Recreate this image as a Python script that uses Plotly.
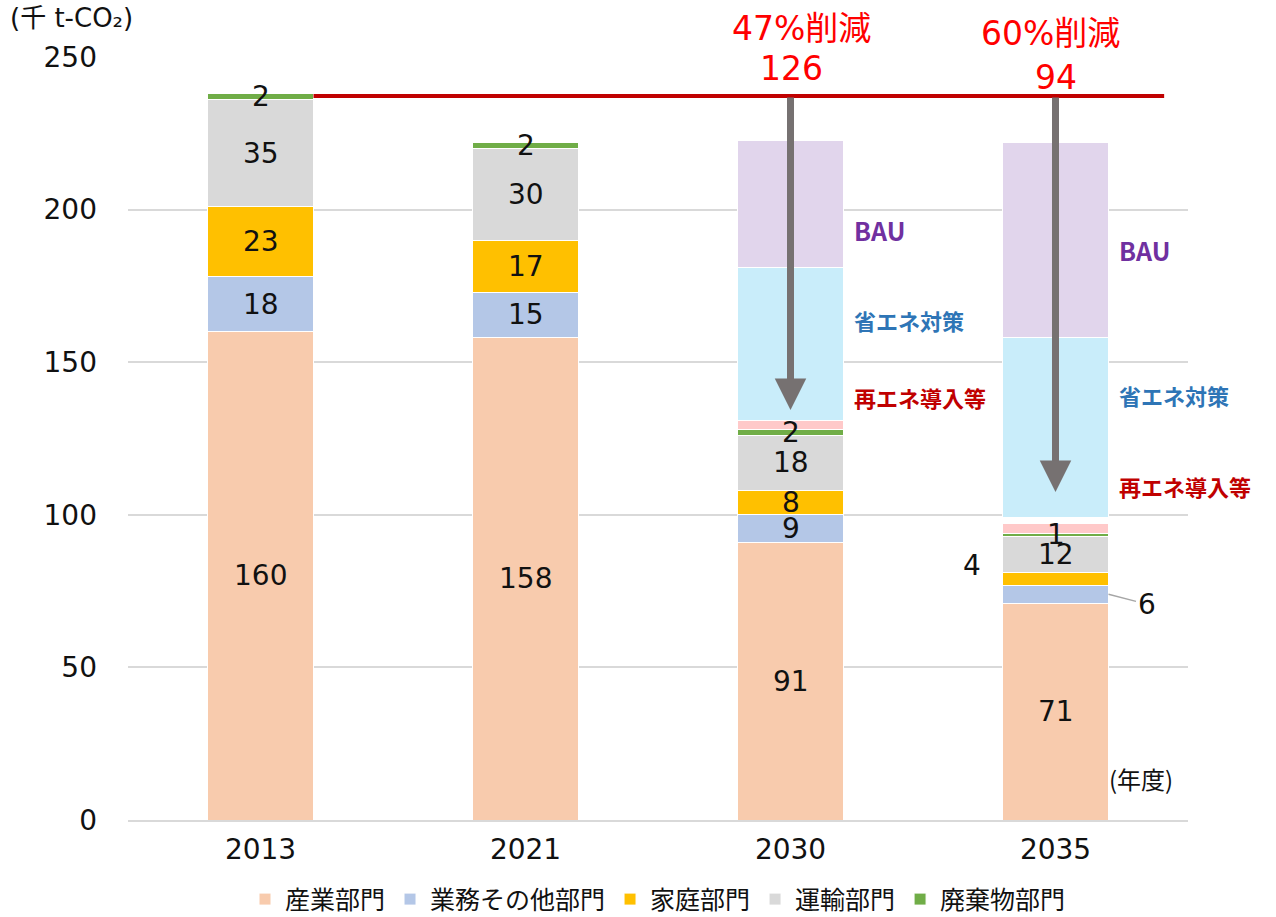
import plotly.graph_objects as go

years = ["2013", "2021", "2030", "2035"]
industry = [160, 158, 91, 71]
commercial = [18, 15, 9, 6]
household = [23, 17, 8, 4]
transport = [35, 30, 18, 12]
waste = [2, 2, 2, 1]
renew = [None, None, 3, 3]
gap = [None, None, 0, 2]
save = [None, None, 50, 59]
bau = [None, None, 41.5, 64]

sector_names = ["産業部門", "業務その他部門", "家庭部門", "運輸部門", "廃棄物部門"]
sector_colors = ["#F8CBAD", "#B4C7E7", "#FFC000", "#D9D9D9", "#70AD47"]
sector_values = [industry, commercial, household, transport, waste]

reduction_pct = ["47%削減", "60%削減"]
reduction_total = ["126", "94"]
arrow_tips = [134.3, 107.5]

NUM = "DejaVu Sans, Noto Sans CJK JP"
JP = "Noto Sans CJK JP"
fig = go.Figure()
for name, col, vals in zip(sector_names, sector_colors, sector_values):
    fig.add_trace(go.Bar(x=years, y=vals, name=name, marker=dict(color=col, line=dict(color="white", width=1)),
                         width=0.4, hoverinfo="skip"))
for name, col, vals in [("再エネ導入等", "#FFC9C9", renew), ("gap", "rgba(0,0,0,0)", gap),
                        ("省エネ対策", "#C9EDFA", save), ("BAU", "#E1D5EC", bau)]:
    fig.add_trace(go.Bar(x=years, y=vals, name=name, showlegend=False,
                         marker=dict(color=col, line=dict(color="white", width=1 if name != "gap" else 0)),
                         width=0.4, hoverinfo="skip"))

ann = []
# segment labels
for i, yr in enumerate(years):
    base = 0
    for j, vals in enumerate(sector_values):
        v = vals[i]
        mid = base + v / 2
        base += v
        a = dict(x=i, xref="x", y=mid, text=str(v), showarrow=False, font=dict(size=28, color="#111", family=NUM))
        if yr == "2035" and j == 2:
            a.update(xshift=-84, yshift=13)
        if yr == "2035" and j == 1:
            a.update(x=i + 0.2, showarrow=True, ax=38, ay=10, arrowhead=0,
                     arrowcolor="#A6A6A6", arrowwidth=1.5, standoff=0)
        ann.append(a)

# reference line from 2013 total
ref = sum(v[0] for v in sector_values)
fig.add_shape(type="line", xref="x", yref="y", x0=0.2, x1=3.41, y0=ref - 0.8, y1=ref - 0.8,
              line=dict(color="#C00000", width=4))

for k, idx in enumerate([2, 3]):
    ann.append(dict(x=idx, xref="x", y=arrow_tips[k], ax=idx, ay=ref - 0.8, axref="x", ayref="y",
                    text="", showarrow=True, arrowhead=2, arrowsize=0.9, arrowwidth=7, arrowcolor="#767171",
                    standoff=0, startstandoff=0))
    ann.append(dict(x=idx, xref="x", y=1.0, yref="paper", text=reduction_pct[k],
                    showarrow=False, font=dict(size=33, color="#FF0000", family=NUM),
                    xshift=11 if k == 0 else -5, yanchor="middle", yshift=29 if k == 0 else 24))
    ann.append(dict(x=idx, xref="x", y=1.0, yref="paper", text=reduction_total[k],
                    showarrow=False, font=dict(size=33, color="#FF0000", family=NUM),
                    xshift=1 if k == 0 else 0, yanchor="middle", yshift=-11 if k == 0 else -20))

side = [
    (2, "BAU", 193.3, "#7030A0"), (2, "省エネ対策", 163.8, "#2E75B6"), (2, "再エネ導入等", 138.6, "#C00000"),
    (3, "BAU", 186.8, "#7030A0"), (3, "省エネ対策", 139.3, "#2E75B6"), (3, "再エネ導入等", 109.4, "#C00000"),
]
for idx, t, yv, c in side:
    ann.append(dict(x=idx + 0.2, xref="x", y=yv, text="<b>%s</b>" % t, showarrow=False, xanchor="left",
                    xshift=8, font=dict(size=25 if t == "BAU" else 22, color=c, family=JP)))

ann.append(dict(x=-0.113, xref="paper", y=1.051, yref="paper", text="(千 t-CO₂)", showarrow=False,
                xanchor="left", yanchor="middle", font=dict(size=26, color="#111", family=NUM)))
ann.append(dict(x=0.924, xref="paper", y=0.055, yref="paper", text="(年度)", showarrow=False,
                xanchor="left", yanchor="middle", font=dict(size=24, color="#111", family=JP)))

fig.update_layout(
    barmode="stack", width=1276, height=917, template=None,
    paper_bgcolor="white", plot_bgcolor="white",
    margin=dict(l=128, r=88, t=57, b=97, autoexpand=False),
    font=dict(family=JP, color="#111", size=22),
    annotations=ann,
    legend=dict(orientation="h", x=0.5, xanchor="center", y=-0.104, yanchor="middle",
                traceorder="normal", font=dict(size=25, family=JP), itemwidth=30),
    showlegend=True,
)
fig.update_yaxes(range=[0, 250], dtick=50, showgrid=True, gridcolor="#D9D9D9", gridwidth=1.5,
                 tickfont=dict(size=28, family=NUM, color="#111"), zeroline=False, ticks="",
                 ticklabelstandoff=30)
fig.update_xaxes(type="category", showgrid=False, showline=True, linecolor="#D9D9D9", linewidth=1.5,
                 tickfont=dict(size=28, family=NUM, color="#111"), ticks="", range=[-0.5, 3.5],
                 ticklabelstandoff=4)
fig.write_html("out.html", config={"displayModeBar": False}, post_script=(
    "document.body.style.margin='0px';"
    "document.body.style.overflow='hidden';"
    "document.documentElement.style.overflow='hidden';"))
